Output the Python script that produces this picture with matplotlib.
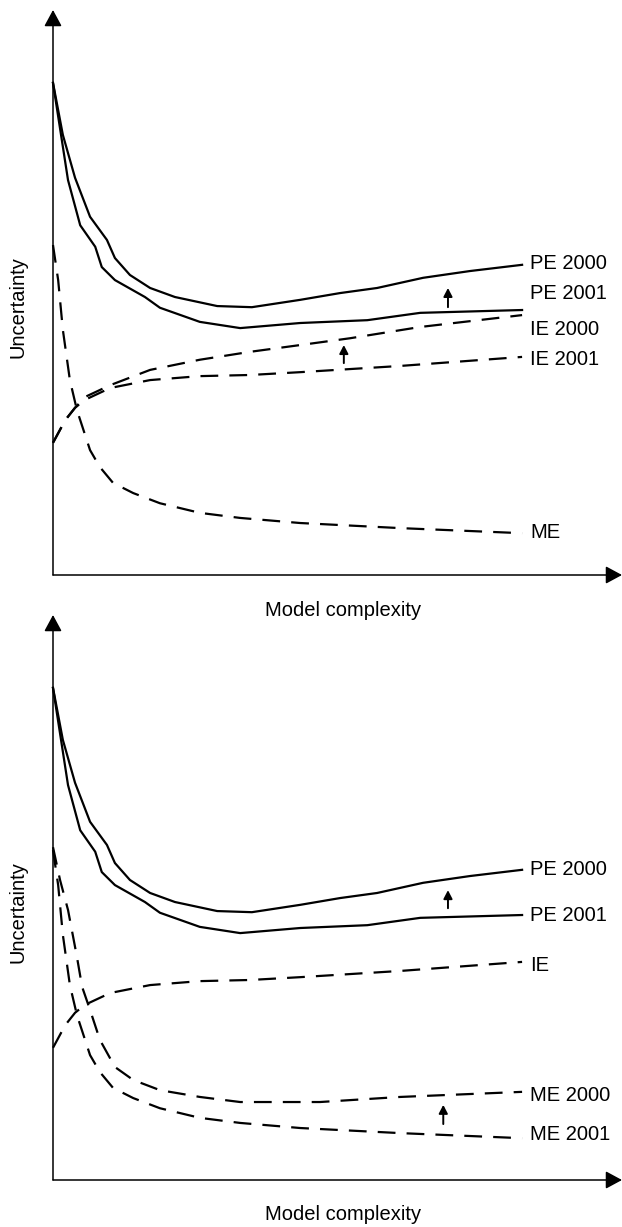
import matplotlib.pyplot as plt

plt.rcParams['font.family'] = ['Liberation Sans', 'DejaVu Sans']

# ---- data (x = model complexity 0..100, y = uncertainty, axis origin = 0) ----
pe2000_x = [0, 2.1, 4.7, 7.9, 11.5, 13.2, 16.4, 20.7, 26.0, 35.0, 42.4, 52.7, 61.2, 69.1, 78.9, 88.9, 100]
pe2000_y = [87.1, 77.9, 70.3, 63.4, 59.3, 56.1, 53.1, 50.8, 49.2, 47.6, 47.4, 48.7, 49.9, 50.8, 52.6, 53.8, 54.9]

pe2001_x = [0, 3.2, 5.8, 9.0, 10.4, 13.2, 19.6, 22.8, 31.3, 39.9, 52.7, 67.0, 78.3, 100]
pe2001_y = [87.1, 69.9, 61.9, 58.1, 54.5, 52.2, 49.2, 47.3, 44.8, 43.7, 44.6, 45.1, 46.4, 46.9]

ie2000_x = [0, 2.6, 4.7, 6.8, 12.2, 20.7, 31.3, 42.0, 52.7, 63.3, 78.3, 100]
ie2000_y = [23.4, 27.4, 29.6, 31.5, 33.6, 36.3, 38.1, 39.5, 40.7, 41.9, 43.9, 46.0]

ie2001_x = [0, 2.6, 4.7, 6.8, 12.2, 20.7, 31.3, 42.0, 52.7, 74.0, 100]
ie2001_y = [23.4, 27.4, 29.6, 31.0, 33.1, 34.5, 35.2, 35.4, 35.9, 37.0, 38.6]

me2001_x = [0, 1.1, 2.1, 3.6, 5.1, 7.9, 10.0, 12.8, 17.1, 22.8, 31.3, 39.9, 52.7, 74.0, 100]
me2001_y = [58.4, 52.2, 43.4, 34.5, 29.2, 22.1, 19.1, 16.3, 14.5, 12.7, 11.0, 10.1, 9.2, 8.3, 7.4]

me2000_x = [0, 1.5, 3.2, 5.1, 6.2, 7.9, 10.0, 13.2, 17.1, 22.8, 31.3, 39.9, 56.9, 74.0, 100]
me2000_y = [58.9, 53.1, 47.8, 39.5, 34.2, 30.1, 24.8, 20.0, 17.7, 15.9, 14.7, 13.8, 13.8, 14.7, 15.6]

# curve labels: (text, y position)
top_labels = [('PE 2000', 55.2), ('PE 2001', 49.9), ('IE 2000', 43.4), ('IE 2001', 38.1), ('ME', 7.6)]
bottom_labels = [('PE 2000', 54.9), ('PE 2001', 46.9), ('IE', 37.9), ('ME 2000', 15.0), ('ME 2001', 8.0)]

# small "increase" arrows: (x, y_from, y_to)
top_shifts = [(84.2, 47.4, 50.8), (62.0, 37.5, 40.7)]
bottom_shifts = [(84.2, 48.1, 51.3), (83.2, 9.9, 13.3)]

W, H = 622, 1227
fig = plt.figure(figsize=(W / 100, H / 100), dpi=100)


def px_box(left, right, bottom, top):
    return [left / W, 1 - bottom / H, (right - left) / W, (bottom - top) / H]


def draw_panel(ax, curves, labels, shifts):
    ax.set_xlim(0, 121.3)
    ax.set_ylim(0, 100)
    ax.axis('off')

    # axes with arrow heads
    for tip in [(0, 1), (1, 0)]:
        ax.annotate('', xy=tip, xytext=(0, 0), xycoords='axes fraction',
                    arrowprops=dict(arrowstyle='-|>,head_length=10,head_width=5.4',
                                    mutation_scale=1, lw=1.1, color='black',
                                    shrinkA=0, shrinkB=0))

    for x, y, style in curves:
        if style == 'solid':
            ax.plot(x, y, color='black', lw=1.6, clip_on=False)
        else:
            ax.plot(x, y, color='black', lw=1.6, ls=(0, (8, 5)), clip_on=False)

    for text, y in labels:
        ax.text(101.7, y, text, fontsize=14.5, va='center', ha='left')

    for x, y0, y1 in shifts:
        ax.annotate('', xy=(x, y1), xytext=(x, y0),
                    arrowprops=dict(arrowstyle='-|>,head_length=5,head_width=2.6',
                                    mutation_scale=1, lw=1.4, color='black',
                                    shrinkA=0, shrinkB=0))


ax1 = fig.add_axes(px_box(53, 622, 575, 10))
draw_panel(ax1,
           [(pe2000_x, pe2000_y, 'solid'), (pe2001_x, pe2001_y, 'solid'),
            (ie2000_x, ie2000_y, 'dashed'), (ie2001_x, ie2001_y, 'dashed'),
            (me2001_x, me2001_y, 'dashed')],
           top_labels, top_shifts)

ax2 = fig.add_axes(px_box(53, 622, 1180, 615))
draw_panel(ax2,
           [(pe2000_x, pe2000_y, 'solid'), (pe2001_x, pe2001_y, 'solid'),
            (ie2001_x, ie2001_y, 'dashed'),
            (me2000_x, me2000_y, 'dashed'), (me2001_x, me2001_y, 'dashed')],
           bottom_labels, bottom_shifts)

# axis titles
for yc, ym in [(307, 610), (912, 1215)]:
    fig.text(18 / W, 1 - yc / H, 'Uncertainty', rotation=90, fontsize=14.5,
             ha='center', va='center')
    fig.text(343 / W, 1 - ym / H, 'Model complexity', fontsize=14.5,
             ha='center', va='center')

fig.savefig('out.png', dpi=100)
